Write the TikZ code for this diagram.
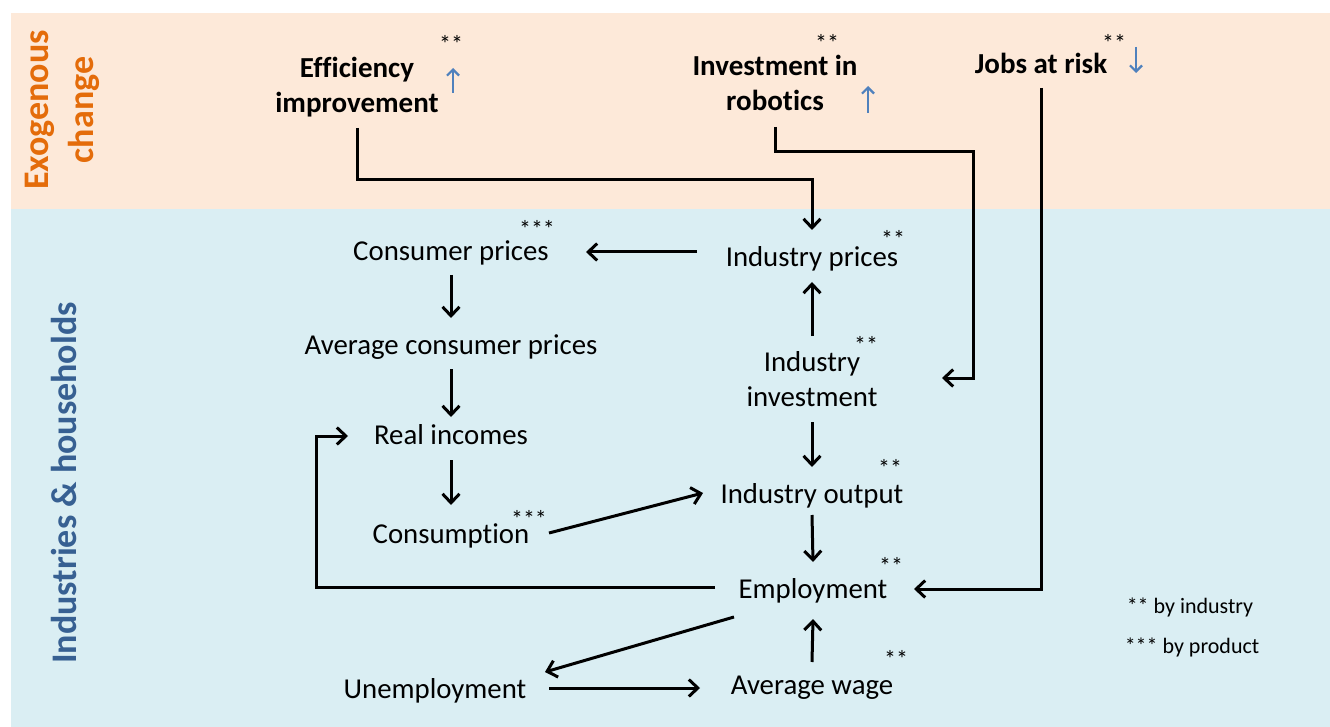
\documentclass[tikz,border=0pt]{standalone}
\usepackage{fontspec}
\setmainfont{Carlito}[Ligatures=NoCommon]
\usetikzlibrary{arrows.meta}
\definecolor{bgorange}{HTML}{FDE9D9}
\definecolor{bgblue}{HTML}{DAEEF3}
\definecolor{ttlorange}{HTML}{E46C0A}
\definecolor{ttlblue}{HTML}{376092}
\definecolor{arrblue}{HTML}{4F81BD}
\begin{document}
\begin{tikzpicture}[x=1pt,y=-1pt,
  lbl/.style={font=\fontsize{28.8}{35}\selectfont, inner sep=0pt, anchor=base},
  blbl/.style={font=\fontsize{29}{35}\selectfont\bfseries, inner sep=0pt, anchor=base},
  ttl/.style={font=\fontsize{36}{45}\selectfont\bfseries, inner sep=0pt, anchor=base, rotate=90},
  star/.style={font=\fontsize{24}{24}\selectfont, inner sep=0pt, anchor=base},
  legend/.style={font=\fontsize{22}{22}\selectfont, inner sep=0pt, anchor=base},
  conn/.style={line width=3pt, -{Straight Barb[length=9pt,width=17pt]}},
  barrow/.style={draw=arrblue, line width=2.2pt, -{Straight Barb[length=6pt,width=12pt]}}
]
\useasboundingbox (0,0) rectangle (1330,727);
\fill[white] (0,0) rectangle (1330,727);
\fill[bgorange] (11,13) rectangle (1330,209);
\fill[bgblue] (11,209) rectangle (1330,727);

% side titles
\node[ttl, text=ttlorange] (tex) at (48,110) {\begin{tabular}[t]{@{}c@{}}Exogenous\\change\end{tabular}};
\node[ttl, text=ttlblue] (tih) at (76,483) {Industries \& households};

% exogenous
\node[blbl] (eff) at (357,78) {\begin{tabular}[t]{@{}c@{}}Efficiency\\improvement\end{tabular}};
\node[blbl] (rob) at (775,76) {\begin{tabular}[t]{@{}c@{}}Investment in\\robotics\end{tabular}};
\node[blbl] (jobs) at (1041,74) {Jobs at risk};
\node[star] (seff) at (451,53) {**};
\node[star] (srob) at (827,52) {**};
\node[star] (sjobs) at (1114,52) {**};

% industries & households
\node[lbl] (cp) at (451,261) {Consumer prices};
\node[lbl] (ip) at (812,266) {Industry prices};
\node[lbl] (acp) at (451,354) {Average consumer prices};
\node[lbl] (ii) at (812,371) {\begin{tabular}[t]{@{}c@{}}Industry\\investment\end{tabular}};
\node[lbl] (ri) at (451,444) {Real incomes};
\node[lbl] (io) at (812,503) {Industry output};
\node[lbl] (cons) at (451,543) {Consumption};
\node[lbl] (emp) at (813,598) {Employment};
\node[lbl] (unemp) at (435,698) {Unemployment};
\node[lbl] (aw) at (812,694) {Average wage};

\node[star] (scp) at (537,238) {***};
\node[star] (sip) at (893,248) {**};
\node[star] (sii) at (866,353) {**};
\node[star] (sio) at (890,476) {**};
\node[star] (scons) at (529,527) {***};
\node[star] (semp) at (891,574) {**};
\node[star] (saw) at (896,667) {**};

\node[legend] (lg1) at (1190,613) {** by industry};
\node[legend] (lg2) at (1192,653) {*** by product};

% blue trend arrows
\draw[barrow] ([xshift=96pt,yshift=-15pt]eff.base) -- ([xshift=96pt,yshift=10pt]eff.base);
\draw[barrow] ([xshift=93pt,yshift=-37pt]rob.base) -- ([xshift=93pt,yshift=-10pt]rob.base);
\draw[barrow] ([xshift=95pt,yshift=27pt]jobs.base) -- ([xshift=95pt,yshift=1pt]jobs.base);

% connectors
\draw[conn] ([yshift=-50pt]eff.base) -- ++(0,52) -| ([yshift=36pt]ip.base);
\draw[conn] ([yshift=-51pt]rob.base) -- ++(0,25) -| ([xshift=161pt,yshift=-7pt]ii.base) -- ([xshift=130pt,yshift=-7pt]ii.base);
\draw[conn] ([yshift=-14pt]jobs.base) |- ([xshift=101pt,yshift=9pt]emp.base);
\draw[conn] ([xshift=-115pt,yshift=14pt]ip.base) -- ([xshift=135pt,yshift=9pt]cp.base);
\draw[conn] ([yshift=-14pt]cp.base) -- ([yshift=36pt]acp.base);
\draw[conn] ([yshift=-15pt]acp.base) -- ([yshift=27pt]ri.base);
\draw[conn] ([yshift=-16pt]ri.base) -- ([yshift=38pt]cons.base);
\draw[conn] ([yshift=35pt]ii.base) -- ([yshift=-16pt]ip.base);
\draw[conn] ([yshift=-51pt]ii.base) -- ([yshift=36pt]io.base);
\draw[conn] ([xshift=98pt,yshift=10pt]cons.base) -- ([xshift=-109pt,yshift=10pt]io.base);
\draw[conn] ([yshift=-12pt]io.base) -- ([yshift=36pt]emp.base);
\draw[conn] ([xshift=-98pt,yshift=11pt]emp.base) -| ([xshift=-135pt,yshift=8pt]ri.base) -- ([xshift=-103pt,yshift=8pt]ri.base);
\draw[conn] ([xshift=-79pt,yshift=-19pt]emp.base) -- ([xshift=110pt,yshift=26pt]unemp.base);
\draw[conn] ([xshift=114pt,yshift=10pt]unemp.base) -- ([xshift=-112pt,yshift=6pt]aw.base);
\draw[conn] ([yshift=32pt]aw.base) -- ([yshift=-21pt]emp.base);
\end{tikzpicture}
\end{document}
